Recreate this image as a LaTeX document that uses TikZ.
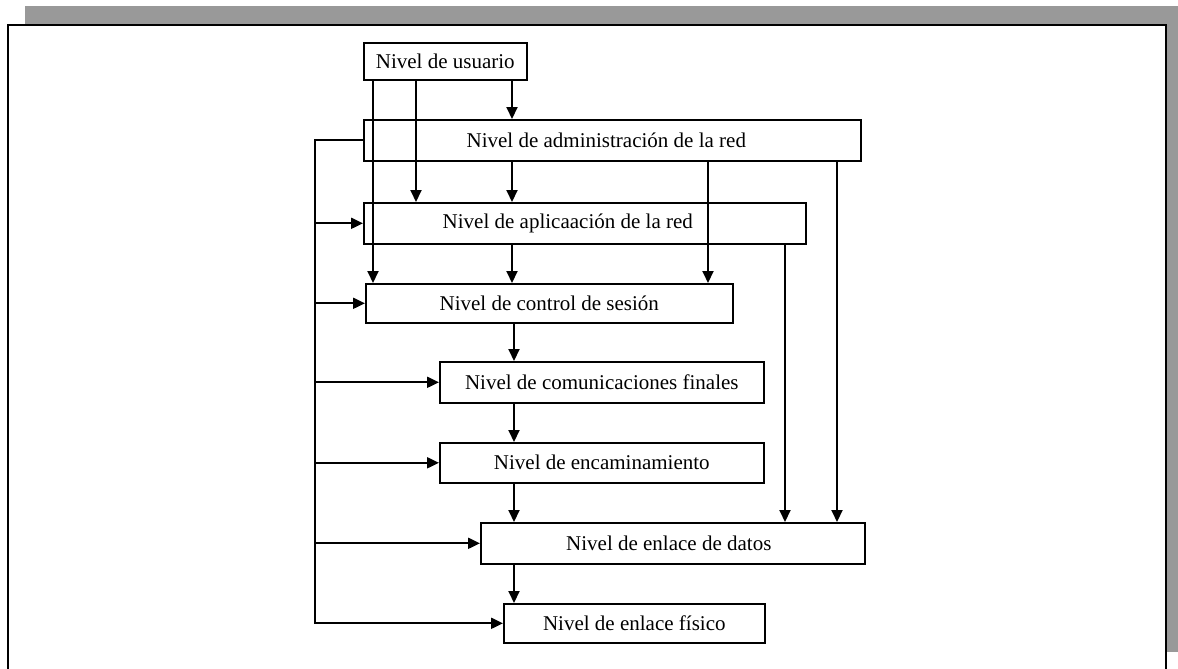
\documentclass[tikz,border=0pt]{standalone}
\usepackage{fontspec}
\setmainfont{Liberation Serif}
\usetikzlibrary{arrows.meta,calc}

\begin{document}
\begin{tikzpicture}[
  x=0.5pt, y=-0.5pt,
  font=\fontsize{10.5}{12}\selectfont,
  >={Triangle[length=6pt,width=5.5pt]},
  layer/.style={
    draw=black,
    line width=0.8pt,
    inner sep=0pt,
    minimum height=#1,
    anchor=north west
  },
  layer/.default=20.5pt,
  link/.style={->, line width=1pt},
  scanband/.style={fill=black!40, draw=none}
]
  \useasboundingbox (0,0) rectangle (1178,669);

  % --- page frame and grey margin ---
  \fill[scanband] (25,6) rectangle (1178,25);
  \fill[scanband] (1166,6) rectangle (1178,652);
  \draw[line width=1.2pt] (8,669) -- (8,25) -- (1166,25) -- (1166,669);

  % --- levels ---
  \node[layer=18.5pt, minimum width=81.5pt] (usuario) at (363,42) {Nivel de usuario};
  \node[layer, minimum width=248.5pt] (admin) at (363,119) {\hspace*{-6pt}Nivel de administración de la red};
  \node[layer, minimum width=221pt] (applic) at (363,202) {\hspace*{-17pt}Nivel de aplicaación de la red};
  \node[layer=19.5pt, minimum width=183.5pt] (control) at (365,283) {Nivel de control de sesión};
  \node[layer, minimum width=162pt] (comun) at (439,361) {Nivel de comunicaciones finales};
  \node[layer=20pt, minimum width=162pt] (encam) at (439,442) {Nivel de encaminamiento};
  \node[layer, minimum width=192pt] (datos) at (480,522) {\hspace*{-4pt}Nivel de enlace de datos};
  \node[layer=19.5pt, minimum width=130.5pt] (fisico) at (503,603) {Nivel de enlace físico};

  % columns of the vertical links
  \coordinate (colA) at (373,0);
  \coordinate (colB) at (416,0);
  \coordinate (colC) at (512,0);
  \coordinate (colD) at (708,0);
  \coordinate (colE) at (785,0);
  \coordinate (colF) at (837,0);
  \coordinate (colG) at (514,0);
  \coordinate (bus) at (315,0);

  % downward links
  \draw[link] (usuario.south -| colA) -- (control.north -| colA);
  \draw[link] (usuario.south -| colB) -- (applic.north -| colB);
  \draw[link] (usuario.south -| colC) -- (admin.north -| colC);
  \draw[link] (admin.south -| colC) -- (applic.north -| colC);
  \draw[link] (applic.south -| colC) -- (control.north -| colC);
  \draw[link] (admin.south -| colD) -- (control.north -| colD);
  \draw[link] (applic.south -| colE) -- (datos.north -| colE);
  \draw[link] (admin.south -| colF) -- (datos.north -| colF);
  \draw[link] (control.south -| colG) -- (comun.north -| colG);
  \draw[link] (comun.south -| colG) -- (encam.north -| colG);
  \draw[link] (encam.south -| colG) -- (datos.north -| colG);
  \draw[link] (datos.south -| colG) -- (fisico.north -| colG);

  % management bus on the left
  \draw[link] (admin.west) -- (admin.west -| bus) |- (fisico.west);
  \foreach \n in {applic,control,comun,encam,datos}
    \draw[link] (bus |- \n.west) -- (\n.west);

\end{tikzpicture}
\end{document}
